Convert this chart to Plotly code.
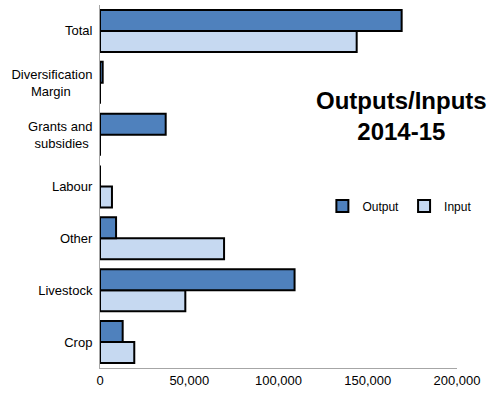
import plotly.graph_objects as go

categories = ["Crop", "Livestock", "Other", "Labour",
              "Grants and<br>subsidies&nbsp;", "Diversification<br>Margin&nbsp;&nbsp;&nbsp;&nbsp;&nbsp;&nbsp;",
              "Total"]
output_vals = [12700, 109000, 9000, 0, 36800, 1500, 169000]
input_vals = [19200, 47800, 69500, 6700, 0, 0, 143800]
x_ticks = [0, 50000, 100000, 150000, 200000]
x_labels = ["0", "50,000", "100,000", "150,000", "200,000"]

fig = go.Figure()
# input first so output sits on top inside each group
fig.add_trace(go.Bar(y=categories, x=input_vals, orientation="h", name="Input",
                     marker=dict(color="#C6D9F1", line=dict(color="black", width=2))))
fig.add_trace(go.Bar(y=categories, x=output_vals, orientation="h", name="Output",
                     marker=dict(color="#4F81BD", line=dict(color="black", width=2))))

fig.add_annotation(text="<b>Outputs/Inputs<br>2014-15</b>", x=0.845, y=0.694,
                   xref="paper", yref="paper", showarrow=False,
                   xanchor="center", yanchor="middle",
                   font=dict(family="Liberation Sans, Arial", size=24, color="black"))

fig.update_layout(
    width=494, height=399,
    margin=dict(l=100, r=37, t=5, b=31, autoexpand=False),
    barmode="group", bargap=0.19, bargroupgap=0,
    plot_bgcolor="white", paper_bgcolor="white",
    font=dict(family="Liberation Sans, Arial", size=13, color="black"),
    legend=dict(orientation="h", x=0.84, y=0.446, xanchor="center", yanchor="middle",
                traceorder="reversed", font=dict(size=12),
                itemwidth=30, bgcolor="rgba(0,0,0,0)"),
    xaxis=dict(range=[0, 200000], tickvals=x_ticks, ticktext=x_labels,
               showgrid=False, showline=True, linecolor="#A6A6A6", linewidth=1,
               zeroline=False, ticks="", automargin=False),
    yaxis=dict(showgrid=False, showline=True, linecolor="#A6A6A6", linewidth=1,
               ticks="outside", ticklen=4, tickcolor="white", automargin=False),
)

# drop the page's default body margin so the chart sits at the window corner
fig.write_html("out.html", config={"displayModeBar": False},
               post_script="document.body.style.margin='0';")
